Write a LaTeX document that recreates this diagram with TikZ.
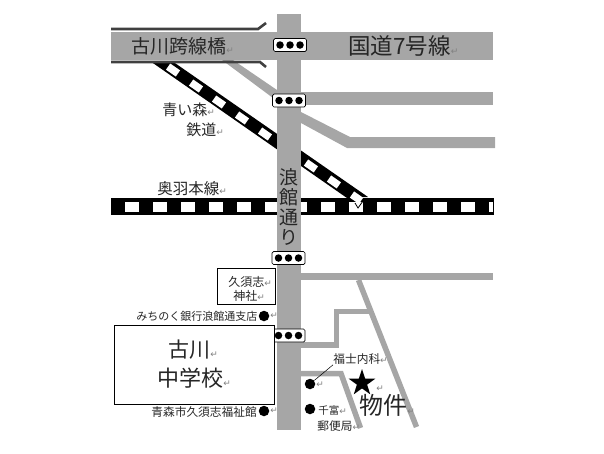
\documentclass[tikz,border=0pt]{standalone}
\usepackage{xcolor}
\usepackage{fontspec}
\usepackage{tikz}
\usetikzlibrary{shapes.geometric}
\setmainfont{Noto Sans CJK JP}
\newfontfamily\markfont{DejaVu Sans}
\definecolor{roadgray}{HTML}{A6A6A6}
\definecolor{bridgegray}{HTML}{404040}
\newcommand{\rt}{{\markfont\fontsize{9}{9}\selectfont\textcolor{gray}{↵}}}
\tikzset{
    road/.style={draw=none, fill=roadgray},
    roadline/.style={draw=roadgray, line width=5.5pt, miter limit=10},
    rail/.style={draw=none, fill=black},
    ties/.style={draw=white, dash pattern=on 14pt off 14pt},
    slantties/.style={draw=white, line width=7.5pt, dash pattern=on 12pt off 16pt},
    bridge/.style={draw=bridgegray, line width=2.6pt},
    signalbox/.style={draw, rounded corners=1.5pt, fill=white, line width=0.7pt, minimum width=33pt, minimum height=13pt, inner sep=0pt},
    signaldot/.style={circle, fill=black, minimum size=7.5pt, inner sep=0pt},
    spot/.style={circle, fill=black, minimum size=10.5pt, inner sep=0pt},
    label/.style={anchor=west, inner sep=0pt, text=black!85},
    infobox/.style={draw, line width=0.7pt, fill=white, inner sep=0pt, anchor=north west},
}
\begin{document}
\begin{tikzpicture}[x=1pt, y=-1pt, line width=0.3mm]
    \useasboundingbox (0,0) rectangle (604,453);

    \fill[rail] (111,198) rectangle (494,215);
    \draw[ties, line width=10pt] (125,207) -- (493,207);
    \fill[rail] (150,61) -- (172,61) -- (368,197) -- (347,198) -- cycle;
    \draw[slantties] (168.1,66.6) -- (361,200.8);
    \fill[white] (349,203) -- (363,203) -- (363,212) -- (349,212) -- cycle;
    \draw[line width=0.8pt] (355,203) -- (358,208) -- (363,201);

    \fill[road] (222,60) -- (233,60) -- (277,90) -- (277,100) -- (273,98) -- cycle;
    \fill[road] (301,112) -- (350,137) -- (495,137) -- (495,148) -- (347,148) -- (301,123) -- cycle;
    \fill[road] (301,92) rectangle (493,105);
    \fill[road] (301,273) rectangle (493,280);
    \fill[road] (111,32) rectangle (493,60);
    \fill[road] (277,14) rectangle (301,430);
    \draw[roadline] (301,345) -- (336.5,345) -- (336.5,311.5) -- (369,311.5);
    \draw[roadline] (358.5,280) -- (416.5,427);
    \draw[roadline] (301,373.5) -- (341,373.5) -- (360.5,428);

    \draw[bridge] (111,29) -- (258,29) -- (266,23);
    \draw[bridge] (111,62) -- (260,62) -- (266,67);

    \foreach \name/\x/\y in {one/290/45, two/289/100.5, three/288.5/258, four/288.5/335.5} {
        \node[signalbox] (\name) at (\x,\y) {};
        \node[signaldot] (\name a) at (\x-10,\y) {};
        \node[signaldot] (\name b) at (\x,\y) {};
        \node[signaldot] (\name c) at (\x+10,\y) {};
    }

    \node[label] (bridgename) at (131,46) {\fontsize{19}{19}\selectfont 古川跨線橋\rt};
    \node[label] (routename) at (348,46) {\fontsize{22.5}{22.5}\selectfont 国道7号線\rt};
    \node[label] (aomori) at (162,110) {\fontsize{15}{15}\selectfont 青い森\rt};
    \node[label] (tetsudo) at (186,130) {\fontsize{15}{15}\selectfont 鉄道\rt};
    \node[label] (ouu) at (157,189) {\fontsize{15.5}{15.5}\selectfont 奥羽本線\rt};
    \node[inner sep=0pt, align=center, text=black!85, font=\fontsize{19}{20}\selectfont] (street) at (289,207)
        {浪\\館\\通\\り};

    \node[infobox, minimum width=58pt, minimum height=36pt] (shrinebox) at (217,268) {};
    \node[label] (shrinea) at (228,282) {\fontsize{12}{12}\selectfont 久須志\rt};
    \node[label] (shrineb) at (233,296) {\fontsize{12}{12}\selectfont 神社\rt};

    \node[label] (bank) at (136,316) {\fontsize{11}{11}\selectfont みちのく銀行浪館通支店};
    \node[spot] (bankdot) at (264,316) {};
    \node[label] (bankmark) at (270,316) {\rt};

    \node[infobox, minimum width=160pt, minimum height=79pt] (schoolbox) at (114,325) {};
    \node[label] (schoola) at (168,350) {\fontsize{21}{21}\selectfont 古川\rt};
    \node[label] (schoolb) at (157,378) {\fontsize{22}{22}\selectfont 中学校\rt};

    \node[label] (hall) at (151,412) {\fontsize{11.7}{11.7}\selectfont 青森市久須志福祉館};
    \node[spot] (halldot) at (264,411) {};
    \node[label] (hallmark) at (270,411) {\rt};

    \node[label] (clinic) at (333,359) {\fontsize{11.7}{11.7}\selectfont 福士内科\rt};
    \node[spot] (clinicdot) at (310,384) {};
    \node[label] (clinicmark) at (316,385) {\rt};
    \draw[line width=0.5pt] (clinic.south west) -- (clinicdot);

    \node[spot] (postdot) at (310,409) {};
    \node[label] (posta) at (318,410) {\fontsize{10.5}{10.5}\selectfont 千富\rt};
    \node[label] (postb) at (317,426) {\fontsize{11.7}{11.7}\selectfont 郵便局\rt};

    \node[star, star points=5, star point ratio=2.6, fill=black, minimum size=28pt, inner sep=0pt] (site) at (362,383) {};
    \node[label] (sitemark) at (376,389) {\rt};
    \node[label] (sitename) at (359,405) {\fontsize{24}{24}\selectfont 物件\rt};
\end{tikzpicture}
\end{document}
